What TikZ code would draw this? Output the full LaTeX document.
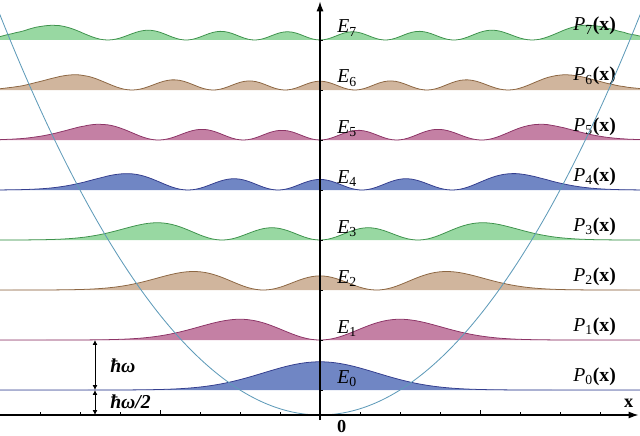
\documentclass[tikz,border=0pt]{standalone}
\usepackage{fontspec}
\setmainfont{Liberation Serif}
\usetikzlibrary{arrows.meta}
% fill and line colours of the levels
\definecolor{bluF}{RGB}{112,134,196}
\definecolor{bluL}{RGB}{52,62,142}
\definecolor{pnkF}{RGB}{196,128,164}
\definecolor{pnkL}{RGB}{140,52,102}
\definecolor{tanF}{RGB}{208,181,157}
\definecolor{tanL}{RGB}{140,102,66}
\definecolor{grnF}{RGB}{152,216,162}
\definecolor{grnL}{RGB}{62,146,76}
\definecolor{potL}{RGB}{95,155,185}

\begin{document}
\begin{tikzpicture}[
		x=2cm, y=1.25cm,
		declare function={% oscillator eigenfunctions by recurrence
			wfa(\u)=0.7511255*exp(-\u*\u/2);
			wfb(\u)=1.4142136*\u*wfa(\u);
			wfc(\u)=\u*wfb(\u)-0.7071068*wfa(\u);
			wfd(\u)=0.8164966*\u*wfc(\u)-0.8164966*wfb(\u);
			wfe(\u)=0.7071068*\u*wfd(\u)-0.8660254*wfc(\u);
			wff(\u)=0.6324555*\u*wfe(\u)-0.8944272*wfd(\u);
			wfg(\u)=0.5773503*\u*wff(\u)-0.9128709*wfe(\u);
			wfh(\u)=0.5345225*\u*wfg(\u)-0.9258201*wff(\u);
		},
		dens/.style = {line width=0.55pt, samples=161, smooth, domain=-4:4},
		axis/.style = {line width=0.8pt, -{Latex[length=7pt,width=5pt]}},
		quant/.style = {line width=0.6pt, {Latex[length=3.5pt,width=3.5pt]}-{Latex[length=3.5pt,width=3.5pt]}},
		lbl/.style = {font=\fontsize{14}{16}\selectfont, inner sep=0pt},
		]
		\useasboundingbox (-4,-0.4) rectangle (4,8.3);
		% probability densities on their levels
		\foreach \n/\f/\c in {0/wfa/blu,1/wfb/pnk,2/wfc/tan,3/wfd/grn,4/wfe/blu,5/wff/pnk,6/wfg/tan,7/wfh/grn}{
			\fill[\c F] (-4,\n+0.5) -- plot[dens] (\x,{\n+0.5+abs(\f(\x))^2}) -- (4,\n+0.5) -- cycle;
			\draw[\c L, dens] plot (\x,{\n+0.5+abs(\f(\x))^2});
			\draw[line width=0.5pt] (0,\n+0.5) -- ++(0.04,0);
			\node[lbl, anchor=base west] (E\n) at (0.2125,\n+0.64) {\textit{E}\textsubscript{\n}};
			\node[lbl, anchor=base west] (P\n) at (3.1625,\n+0.68) {\textit{P}\textsubscript{\n}\textbf{(x)}};
		}
		% potential
		\draw[potL, line width=0.6pt] plot[samples=121, smooth, domain=-4.07:4.07] (\x,{0.5*\x*\x});
		% axes
		\coordinate (xs) at (-4,0);
		\coordinate (xe) at (3.98,0);
		\coordinate (ys) at (0,-0.1);
		\coordinate (ye) at (0,8.27);
		\draw[axis] (xs) -- (xe);
		\draw[axis] (ys) -- (ye);
		\foreach \t in {-3.5,-3,-2.5,-1.5,-1,-0.5,0.5,1,1.5,2.5,3,3.5}
		\draw[line width=0.4pt] (\t,0) -- ++(0,0.06);
		\foreach \t in {-2,2}
		\draw[line width=0.4pt] (\t,0) -- ++(0,0.1);
		\node[lbl, font=\fontsize{13}{15}\selectfont] (orig) at (0.27,-0.24) {\textbf{0}};
		\node[lbl, font=\fontsize{13}{15}\selectfont] (xlab) at (3.86,0.24) {\textbf{x}};
		% energy quanta
		\coordinate (qa) at (-2.8125,1.5);
		\coordinate (qb) at (-2.8125,0.5);
		\coordinate (qc) at (-2.8125,0);
		\draw[quant] (qa) -- (qb);
		\draw[quant] (qb) -- (qc);
		\node[lbl, anchor=west] (hw) at (-2.625,0.98) {\textbf{\textit{ħω}}};
		\node[lbl, anchor=west] (hwh) at (-2.625,0.26) {\textbf{\textit{ħω/2}}};
	\end{tikzpicture}
\end{document}
